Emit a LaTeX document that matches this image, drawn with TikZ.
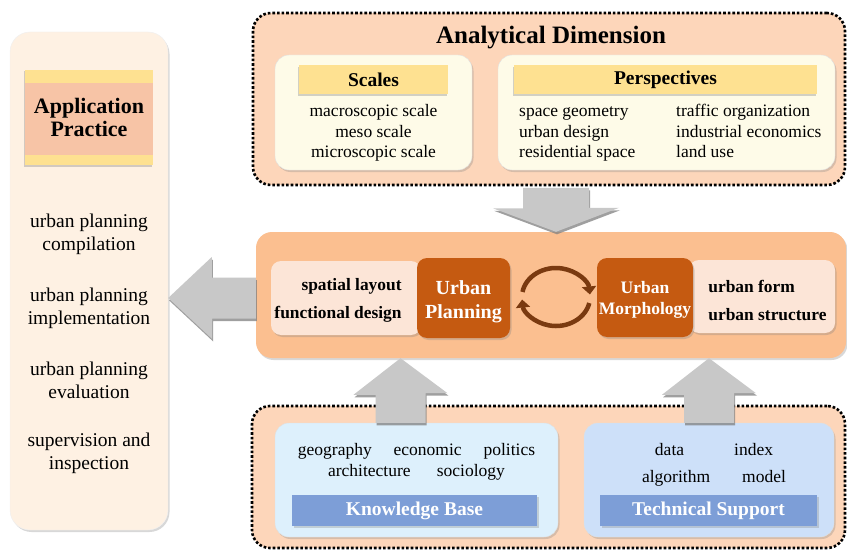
\documentclass[tikz,border=0pt]{standalone}
\usepackage{fontspec}
\setmainfont{Liberation Serif}
\usetikzlibrary{arrows.meta, positioning, calc, shadows}
\definecolor{panelcream}{RGB}{254,241,227}
\definecolor{headyellow}{RGB}{254,225,145}
\definecolor{headorange}{RGB}{247,196,166}
\definecolor{peach}{RGB}{253,214,186}
\definecolor{innercream}{RGB}{254,251,232}
\definecolor{coreorange}{RGB}{251,191,144}
\definecolor{corelight}{RGB}{252,229,215}
\definecolor{burnt}{RGB}{197,90,17}
\definecolor{cyclebrown}{RGB}{122,58,16}
\definecolor{kbblue}{RGB}{221,240,252}
\definecolor{tsblue}{RGB}{205,224,249}
\definecolor{barblue}{RGB}{125,158,215}
\definecolor{arrowgray}{RGB}{200,200,200}
\tikzset{
    softshadow/.style={drop shadow={opacity=0.3, shadow xshift=1.5pt, shadow yshift=-2pt}},
    dimbox/.style={rectangle, rounded corners=18pt, fill=peach, draw=black, line width=2.6pt, dash pattern=on 2.6pt off 2pt},
    subbox/.style={rectangle, rounded corners=14pt, draw=black!12, softshadow},
    headbar/.style={rectangle, fill=headyellow, font=\fontsize{19.5}{23}\selectfont\bfseries, drop shadow={opacity=0.35, shadow xshift=-1.5pt, shadow yshift=-1.5pt}},
    blockarrow/.style={fill=arrowgray, drop shadow={opacity=0.75, shadow xshift=1pt, shadow yshift=-2.5pt}},
}

\begin{document}
\begin{tikzpicture}[x=1pt, y=-1pt,
    body/.style={font=\fontsize{17.5}{20.5}\selectfont, inner sep=0pt, align=center},
    appitem/.style={font=\fontsize{19.5}{23}\selectfont, inner sep=0pt, align=center},
    coretext/.style={font=\fontsize{17.4}{28}\selectfont\bfseries, inner sep=0pt},
    darkbox/.style={rectangle, rounded corners=10pt, fill=burnt, softshadow},
    darktext/.style={text=white, align=center, inner sep=0pt, font=\fontsize{20}{24}\selectfont\bfseries},
    lightbox/.style={rectangle, rounded corners=10pt, fill=corelight, softshadow},
    barbox/.style={rectangle, fill=barblue, text=white, font=\fontsize{19.5}{23}\selectfont\bfseries, softshadow},
    cyclearrow/.style={cyclebrown, line width=4.5pt, -{Triangle[length=8pt, width=14pt]}}
]
\useasboundingbox[fill=white] (0,0) rectangle (847,551);

% application practice
\node[rectangle, rounded corners=20pt, fill=panelcream, draw=black!6, softshadow, minimum width=158pt, minimum height=498pt] (practice) at (89,281) {};
\node[headbar, minimum width=128pt, minimum height=95pt, align=center, font=\fontsize{22}{22.5}\selectfont\bfseries,
    path picture={\fill[headorange] ([yshift=-13pt]path picture bounding box.north west) rectangle ([yshift=10pt]path picture bounding box.south east);}] (app-head) at (89,117.5) {Application\\Practice};
\node[appitem] (app-item1) at (89,234) {urban planning\\compilation};
\node[appitem] (app-item2) at (89,308.5) {urban planning\\implementation};
\node[appitem] (app-item3) at (89,380.5) {urban planning\\evaluation};
\node[appitem] (app-item4) at (89,453) {supervision and\\inspection};

% analytical dimension
\node[dimbox, minimum width=592pt, minimum height=172pt] (analysis) at (549,99) {};
\node[font=\fontsize{25}{30}\selectfont\bfseries] (analysis-title) at (551,37.5) {Analytical Dimension};
\node[subbox, fill=innercream, minimum width=197pt, minimum height=115pt] (scales) at (373.5,112.5) {};
\node[headbar, minimum width=149pt, minimum height=29pt] (scales-head) at (373.5,80) {Scales};
\node[body] (scales-list) at (373.5,133) {macroscopic scale\\meso scale\\microscopic scale};
\node[subbox, fill=innercream, minimum width=337pt, minimum height=115pt] (persp) at (666.5,112.5) {};
\node[headbar, minimum width=303pt, minimum height=29pt] (persp-head) at (665.5,80) {Perspectives};
\node[body, align=left, anchor=west] (persp-list) at (519,133) {\makebox[157pt][l]{space geometry}traffic organization\\
    \makebox[157pt][l]{urban design}industrial economics\\\makebox[157pt][l]{residential space}land use};

% planning and morphology
\node[rectangle, rounded corners=16pt, fill=coreorange, softshadow, minimum width=590pt, minimum height=126pt] (core) at (551,295) {};
\node[lightbox, minimum width=150pt, minimum height=74pt] (plan-light) at (346,298) {};
\node[lightbox, minimum width=146pt, minimum height=73pt] (morph-light) at (762,296.5) {};
\node[darkbox, minimum width=93pt, minimum height=80pt] (planning) at (463.5,298) {};
\node[darkbox, minimum width=96pt, minimum height=79pt] (morphology) at (645,297.5) {};
\node[darktext] (planning-label) at ([yshift=-4pt]planning.center) {Urban\\Planning};
\node[darktext, font=\fontsize{17.5}{21.5}\selectfont\bfseries] (morphology-label) at ([yshift=-2.5pt]morphology.center) {Urban\\Morphology};
\node[coretext, align=right, left=15pt of planning, yshift=-2.5pt] (plan-text) {spatial layout\\functional design};
\node[coretext, align=left, right=15pt of morphology, yshift=-2.5pt] (morph-text) {urban form\\urban structure};
\coordinate (cyc) at (556,297);
\draw[cyclearrow] (cyc) ++(170:34pt and 29pt) arc[start angle=170, end angle=5, x radius=34pt, y radius=29pt];
\draw[cyclearrow] (cyc) ++(-12:34pt and 29pt) arc[start angle=-12, end angle=-175, x radius=34pt, y radius=29pt];

% knowledge and technique
\node[dimbox, minimum width=593pt, minimum height=142pt] (support) at (548.5,477) {};
\node[subbox, fill=kbblue, minimum width=283pt, minimum height=114pt] (knowledge) at (416.5,480) {};
\node[subbox, fill=tsblue, minimum width=250pt, minimum height=114pt] (technical) at (709,480) {};
\node[body, font=\fontsize{17.5}{21}\selectfont] (knowledge-list) at (416.5,461.5) {geography \quad economic \quad politics\\architecture \quad\ sociology};
\node[body, font=\fontsize{17.5}{27}\selectfont] (technical-list) at (714,464.5) {data\hspace{50pt}index\\algorithm\hspace{32pt}model};
\node[barbox, minimum width=245pt, minimum height=31pt] (knowledge-bar) at (414.5,510.5) {Knowledge Base};
\node[barbox, minimum width=217pt, minimum height=31pt] (technical-bar) at (708.5,510.5) {Technical Support};

% block arrows
\fill[blockarrow] ($(analysis.south -| cyc)+(-33,1.5)$) -- ++(0,20.5) -- ++(-30,0) -- (core.north -| cyc)
    -- ($(core.north -| cyc)+(63,-24)$) -- ++(-30,0) -- ($(analysis.south -| cyc)+(33,1.5)$) -- cycle;
\fill[blockarrow] ($(core.west |- planning)+(0,-20.5)$) -- ++(-44,0) -- ++(0,-20.5) -- (practice.east |- planning)
    -- ($(practice.east |- planning)+(44,41)$) -- ++(0,-20.5) -- ($(core.west |- planning)+(0,20.5)$) -- cycle;
\coordinate (kb-in) at ([xshift=-16pt]knowledge.north);
\coordinate (kb-out) at (core.south -| kb-in);
\fill[blockarrow] ($(kb-in)+(-25,0)$) -- ++(0,-28) -- ++(-22,0) -- (kb-out)
    -- ($(kb-out)+(47,35)$) -- ++(-22,0) -- ($(kb-in)+(25,0)$) -- cycle;
\coordinate (ts-in) at (technical.north);
\coordinate (ts-out) at (core.south -| ts-in);
\fill[blockarrow] ($(ts-in)+(-25,0)$) -- ++(0,-28) -- ++(-22,0) -- (ts-out)
    -- ($(ts-out)+(47,35)$) -- ++(-22,0) -- ($(ts-in)+(25,0)$) -- cycle;

\end{tikzpicture}
\end{document}
